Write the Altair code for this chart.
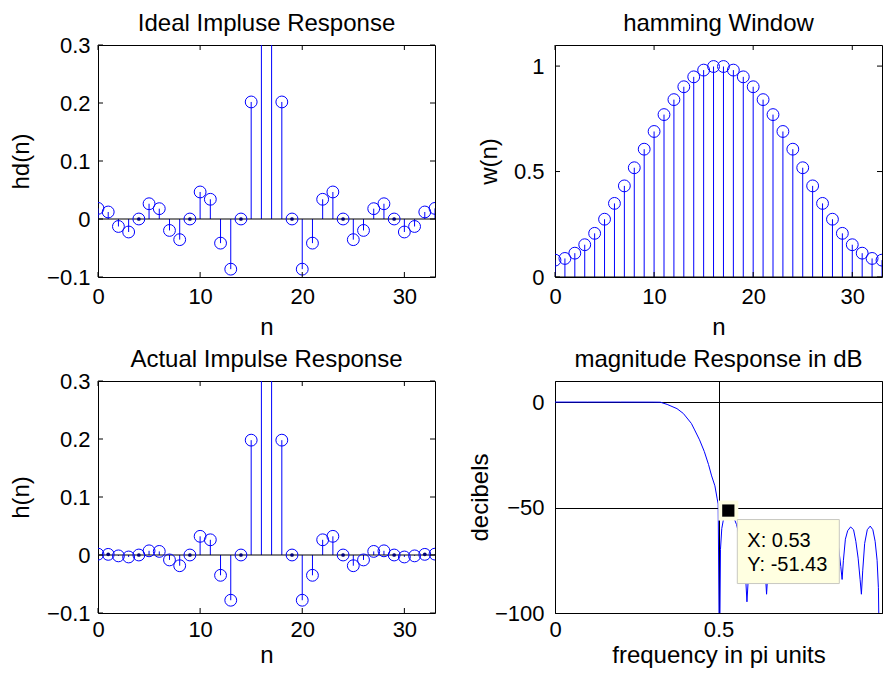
import altair as alt
import pandas as pd

# ---------------- data ----------------
n_idx = list(range(34))

hd_vals = [0.0183, 0.0121, -0.0129, -0.0224, 0.0, 0.0263, 0.0178, -0.0197, -0.0356, 0.0,
           0.0466, 0.0340, -0.0416, -0.0865, 0.0, 0.2018, 0.3742, 0.3742, 0.2018, 0.0,
           -0.0865, -0.0416, 0.0340, 0.0466, 0.0, -0.0356, -0.0197, 0.0178, 0.0263, 0.0,
           -0.0224, -0.0129, 0.0121, 0.0183]

w_vals = [0.080, 0.088, 0.113, 0.153, 0.207, 0.274, 0.349, 0.432, 0.518, 0.606,
          0.690, 0.770, 0.841, 0.902, 0.949, 0.981, 0.998, 0.998, 0.981, 0.949,
          0.902, 0.841, 0.770, 0.690, 0.606, 0.518, 0.432, 0.349, 0.274, 0.207,
          0.153, 0.113, 0.088, 0.080]

h_vals = [0.0015, 0.0011, -0.0015, -0.0034, 0.0, 0.0072, 0.0062, -0.0085, -0.0185, 0.0,
          0.0322, 0.0262, -0.0350, -0.0780, 0.0, 0.1980, 0.3734, 0.3734, 0.1980, 0.0,
          -0.0780, -0.0350, 0.0262, 0.0322, 0.0, -0.0185, -0.0085, 0.0062, 0.0072, 0.0,
          -0.0034, -0.0015, 0.0011, 0.0015]

freq = [0.0, 0.1, 0.2, 0.3, 0.322, 0.343, 0.373, 0.3925, 0.417, 0.427,
        0.442, 0.4565, 0.4695, 0.479, 0.489, 0.496, 0.499, 0.503, 0.506, 0.51,
        0.517, 0.53, 0.542, 0.555, 0.568, 0.578, 0.584, 0.587, 0.591, 0.598,
        0.607, 0.617, 0.627, 0.636, 0.642, 0.647, 0.652, 0.66, 0.668, 0.677,
        0.686, 0.695, 0.701, 0.706, 0.711, 0.72, 0.727, 0.735, 0.744, 0.753,
        0.759, 0.764, 0.769, 0.777, 0.785, 0.793, 0.801, 0.809, 0.815, 0.82,
        0.825, 0.833, 0.841, 0.85, 0.856, 0.862, 0.868, 0.874, 0.878, 0.882,
        0.888, 0.895, 0.904, 0.913, 0.92, 0.927, 0.933, 0.937, 0.941, 0.947,
        0.955, 0.964, 0.972, 0.979, 0.985, 0.989, 0.993]

db_vals = [0.0, 0.0, 0.0, -0.02, -0.05, -1.1, -3.1, -5.4, -10.1, -13.2,
           -17.9, -23.4, -29.6, -35.0, -39.7, -45.9, -48.3, -130, -70, -60,
           -54, -51.43, -53, -58, -66, -76, -86, -94.7, -84, -70,
           -61, -57.5, -60, -68, -78, -91.1, -78, -66, -60, -58,
           -60, -67, -76, -84, -76, -64, -59.5, -58, -59.5, -65,
           -74, -83, -74, -64, -59.5, -58.5, -60, -66, -74, -82,
           -74, -64, -60, -59, -59.2, -63, -70, -78, -84.1, -75,
           -65, -61, -59.2, -60.5, -66, -74, -84, -91.1, -80, -67,
           -60.5, -58.8, -60.5, -66, -75, -88, -130]

tip_x = 0.53
tip_y = -51.43

titles = ["Ideal Impluse Response", "hamming Window",
          "Actual Impulse Response", "magnitude Response in dB"]

# ---------------- style ----------------
FONT = "Liberation Sans, Arial, Helvetica, sans-serif"
BLUE = "#0000FF"
FS = 22      # tick labels
FT = 24      # titles and axis titles
W_L, W_R, H = 337, 327, 232


def inward_ticks(xticks, yticks, xs, ys, width, height):
    tx = pd.DataFrame({"t": xticks})
    ty = pd.DataFrame({"t": yticks})
    out = [
        alt.Chart(ty).mark_rule(color="black", strokeWidth=1).encode(
            y=alt.Y("t:Q", scale=ys), x=alt.value(0), x2=alt.value(5)),
        alt.Chart(ty).mark_rule(color="black", strokeWidth=1).encode(
            y=alt.Y("t:Q", scale=ys), x=alt.value(width - 5), x2=alt.value(width)),
        alt.Chart(tx).mark_rule(color="black", strokeWidth=1).encode(
            x=alt.X("t:Q", scale=xs), y=alt.value(height), y2=alt.value(height - 5)),
        alt.Chart(tx).mark_rule(color="black", strokeWidth=1).encode(
            x=alt.X("t:Q", scale=xs), y=alt.value(0), y2=alt.value(5)),
    ]
    return out


def stem_panel(values, title, ytitle, ydom, yticks, yfmt, width, title_x, lab_pad, t_off,
               xt_y, xl_pad):
    df = pd.DataFrame({"n": n_idx, "v": values})
    dots = df[df["v"].abs() < 0.0012]
    xs = alt.Scale(domain=[0, 33], nice=False, zero=False)
    ys = alt.Scale(domain=ydom, nice=False, zero=False)
    xaxis = alt.Axis(values=[0, 10, 20, 30], title="n", format="d",
                     labelPadding=xl_pad, labelBaseline="middle",
                     titleY=xt_y, titleBaseline="middle")
    yaxis = alt.Axis(values=yticks, title=ytitle, format=yfmt,
                     labelPadding=lab_pad, titleX=title_x, titleY=H / 2,
                     titleBaseline="middle")
    stems = alt.Chart(df).mark_rule(color=BLUE, strokeWidth=1, clip=True).encode(
        x=alt.X("n:Q", scale=xs, axis=xaxis),
        y=alt.Y("v:Q", scale=ys, axis=yaxis),
        y2=alt.Y2Datum(0),
    )
    base = alt.Chart(pd.DataFrame({"z": [0]})).mark_rule(color="black", strokeWidth=1, clip=True).encode(
        y=alt.Y("z:Q", scale=ys))
    circles = alt.Chart(df).mark_point(shape="circle", size=140, filled=False, color=BLUE,
                                       strokeWidth=1, opacity=1, clip=True).encode(
        x=alt.X("n:Q", scale=xs),
        y=alt.Y("v:Q", scale=ys),
    )
    dotl = alt.Chart(dots).mark_point(shape="circle", size=14, filled=True, color="#00007A",
                                      opacity=1, clip=True).encode(
        x=alt.X("n:Q", scale=xs),
        y=alt.Y("v:Q", scale=ys),
    )
    layers = [stems, base, circles, dotl] + inward_ticks([0, 10, 20, 30], yticks, xs, ys, width, H)
    return alt.layer(*layers).properties(
        width=width, height=H, title=alt.TitleParams(text=title, offset=t_off))


p1 = stem_panel(hd_vals, titles[0], "hd(n)", [-0.1, 0.3], [-0.1, 0, 0.1, 0.2, 0.3], "~g",
                W_L, -77, 8, -2, 50, 19)
p2 = stem_panel(w_vals, titles[1], "w(n)", [0, 1.1], [0, 0.5, 1], "~g",
                W_R, -66, 11, 9, 50, 19)
p3 = stem_panel(h_vals, titles[2], "h(n)", [-0.1, 0.3], [-0.1, 0, 0.1, 0.2, 0.3], "~g",
                W_L, -77, 8, -2, 42, 16)

# magnitude response panel
mdf = pd.DataFrame({"f": freq, "db": db_vals})
fxs = alt.Scale(domain=[0, 1], nice=False, zero=False)
fys = alt.Scale(domain=[-100, 10], nice=False, zero=False)
mline = alt.Chart(mdf).mark_line(color=BLUE, strokeWidth=1, clip=True).encode(
    x=alt.X("f:Q", scale=fxs,
            axis=alt.Axis(values=[0, 0.5, 1], title="frequency in pi units", format="~g",
                          grid=True, gridColor="black", gridOpacity=1, gridWidth=1,
                          labelPadding=16, labelBaseline="middle",
                          labelExpr="datum.value < 1 ? datum.label : ''",
                          titleY=42, titleBaseline="middle")),
    y=alt.Y("db:Q", scale=fys,
            axis=alt.Axis(values=[-100, -50, 0], title="decibels", format="d",
                          grid=True, gridColor="black", gridOpacity=1, gridWidth=1,
                          labelPadding=11, titleX=-75, titleY=H / 2, titleBaseline="middle")),
    order="f:Q",
)
tdf = pd.DataFrame({"f": [tip_x], "db": [tip_y],
                    "lx": ["X: %.2f" % tip_x], "ly": ["Y: %.2f" % tip_y]})
tx_enc = alt.X("f:Q", scale=fxs)
ty_enc = alt.Y("db:Q", scale=fys)
mark_bg = alt.Chart(tdf).mark_square(size=400, color="#FFFFE1", opacity=1).encode(x=tx_enc, y=ty_enc)
mark_fg = alt.Chart(tdf).mark_square(size=150, color="black", opacity=1).encode(x=tx_enc, y=ty_enc)
box = alt.Chart(tdf).mark_rect(fill="#FFFFE1", stroke="#C8C8C0", strokeWidth=1,
                               xOffset=9, x2Offset=111, yOffset=9, y2Offset=73).encode(
    x=tx_enc, x2=alt.X2("f"), y=ty_enc, y2=alt.Y2("db"))
txt1 = alt.Chart(tdf).mark_text(align="left", baseline="middle", dx=19, dy=30,
                                font=FONT, fontSize=20, color="black").encode(
    x=tx_enc, y=ty_enc, text="lx:N")
txt2 = alt.Chart(tdf).mark_text(align="left", baseline="middle", dx=19, dy=54,
                                font=FONT, fontSize=20, color="black").encode(
    x=tx_enc, y=ty_enc, text="ly:N")
p4 = alt.layer(mline, mark_bg, mark_fg, box, txt1, txt2).properties(
    width=W_R, height=H, title=alt.TitleParams(text=titles[3], offset=9))

chart = alt.concat(p1, p2, p3, p4, columns=2,
                   spacing={"row": 104, "column": 120}, bounds="flush").properties(
    padding={"left": 0, "top": 3, "right": 0, "bottom": 0}
).configure_view(
    stroke="black", strokeWidth=1
).configure_axis(
    labelFont=FONT, titleFont=FONT, labelFontSize=FS, titleFontSize=FT,
    titleFontWeight="normal", labelColor="black", titleColor="black",
    ticks=False, tickSize=0, domain=False, grid=False, labelFlush=False,
    labelOverlap=False
).configure_title(
    font=FONT, fontSize=FT, fontWeight="normal", color="black",
    anchor="middle", frame="group"
)

chart.save("out.html", embed_options={"renderer": "svg", "actions": False})
